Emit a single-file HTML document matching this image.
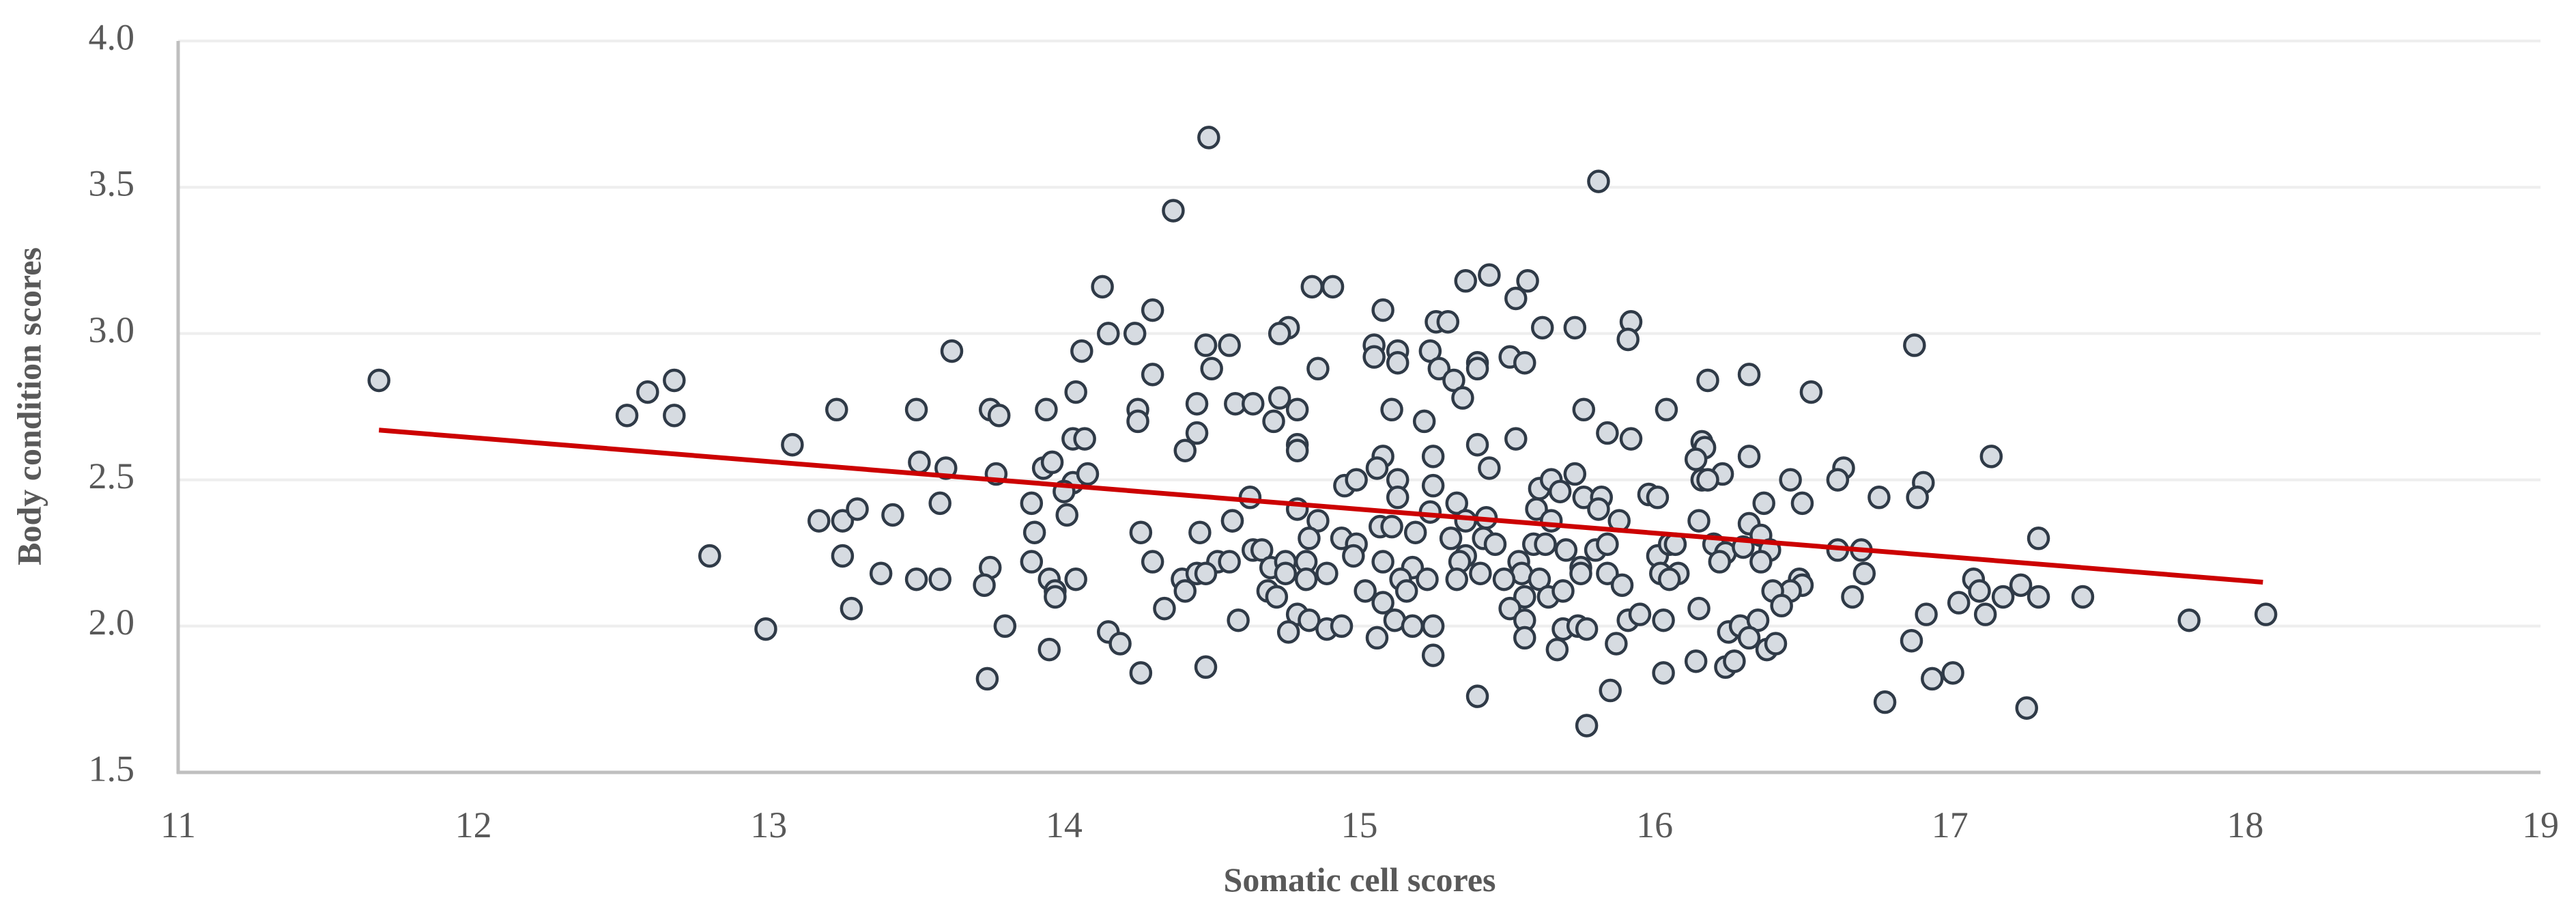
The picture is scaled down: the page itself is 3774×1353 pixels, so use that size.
<!DOCTYPE html>
<html><head><meta charset="utf-8">
<style>
html,body{margin:0;padding:0;background:#fff;}
svg{display:block;}
.tick{font-family:"Liberation Serif",serif;font-size:54px;fill:#595959;}
.title{font-family:"Liberation Serif",serif;font-size:50px;font-weight:bold;fill:#595959;}
</style></head>
<body>
<svg id="chart" width="3774" height="1353" viewBox="0 0 3774 1353" xmlns="http://www.w3.org/2000/svg">
<rect width="3774" height="1353" fill="#fff"/>
<g id="grid"></g>
<g id="axes"></g>
<g id="points"></g>
<g id="trend"></g>
<text class="title" x="48" y="595" text-anchor="middle" transform="rotate(-90 48 595)" dominant-baseline="middle">Body condition scores</text>
<text class="title" x="1992" y="1305" text-anchor="middle">Somatic cell scores</text>
</svg>
<script>
const xTicks=[11,12,13,14,15,16,17,18,19];
const yTicks=[1.5,2.0,2.5,3.0,3.5,4.0];
const yTickLabels=["1.5","2.0","2.5","3.0","3.5","4.0"];
const scsX=[11.68,12.59,12.68,12.52,12.68,13.08,12.80,12.99,
14.49,14.37,14.13,14.30,14.15,14.24,13.62,14.06,14.48,14.50,14.30,14.04,13.23,13.50,13.75,13.78,13.94,14.25,14.25,14.45,14.03,14.07,14.45,14.41,13.51,13.60,13.77,13.93,13.96,14.03,14.08,14.00,13.17,13.25,13.30,13.42,13.58,13.89,14.01,13.90,14.26,14.46,14.57,13.25,13.38,13.50,13.58,13.75,13.73,13.89,13.95,13.97,13.97,14.04,14.30,14.52,14.40,14.45,14.48,14.41,13.28,14.34,13.80,14.15,14.19,13.95,13.74,14.26,14.48,
15.81,14.84,14.91,15.36,15.44,15.57,15.53,15.08,14.76,14.73,15.26,15.30,15.62,15.73,15.92,15.91,14.56,15.05,15.05,15.13,15.13,15.24,15.27,15.32,15.35,15.40,15.40,15.51,15.56,14.86,14.58,14.64,14.73,14.79,14.71,15.11,15.22,15.76,16.04,14.79,14.79,15.40,15.53,15.84,15.92,15.44,15.08,15.06,15.25,14.95,14.99,15.13,15.13,15.25,14.63,14.79,14.57,14.86,15.33,15.24,15.36,15.43,15.61,15.65,15.73,15.68,15.76,15.82,15.60,15.81,15.65,15.88,15.98,16.01,15.07,15.11,15.19,14.83,14.94,14.99,14.98,14.64,14.67,15.31,15.42,15.46,15.36,15.34,15.59,15.63,15.70,15.80,15.84,16.01,16.05,14.56,14.70,14.75,14.82,14.75,14.89,15.08,15.18,15.14,15.23,15.41,15.33,15.54,15.55,15.49,15.61,15.75,15.75,15.84,15.89,16.02,14.69,14.72,14.82,15.02,15.08,15.16,15.56,15.64,15.69,15.51,14.59,14.79,14.76,14.83,14.89,14.94,15.06,15.12,15.18,15.25,15.25,15.56,15.56,15.69,15.74,15.77,15.91,15.95,16.03,15.67,15.87,16.03,15.85,15.40,15.77,
16.88,16.18,16.32,16.53,16.16,16.17,16.14,16.32,16.23,16.16,16.18,16.46,16.64,16.62,16.37,16.50,16.76,16.91,16.89,17.14,16.15,16.32,16.36,16.07,16.20,16.24,16.30,16.39,16.22,16.36,16.62,16.70,17.30,16.08,16.05,16.71,16.49,16.50,16.46,16.40,16.43,16.67,17.08,17.10,17.18,17.24,17.30,17.45,17.03,16.92,17.12,17.81,18.07,16.15,16.25,16.29,16.35,16.32,16.38,16.41,16.87,16.14,16.24,16.27,16.94,17.01,16.78,17.26];
const bcsY=[2.84,2.80,2.84,2.72,2.72,2.62,2.24,1.99,
3.67,3.42,3.16,3.08,3.00,3.00,2.94,2.94,2.96,2.88,2.86,2.80,2.74,2.74,2.74,2.72,2.74,2.74,2.70,2.76,2.64,2.64,2.66,2.60,2.56,2.54,2.52,2.54,2.56,2.49,2.52,2.46,2.36,2.36,2.40,2.38,2.42,2.42,2.38,2.32,2.32,2.32,2.36,2.24,2.18,2.16,2.16,2.20,2.14,2.22,2.16,2.12,2.10,2.16,2.22,2.22,2.16,2.18,2.18,2.12,2.06,2.06,2.00,1.98,1.94,1.92,1.82,1.84,1.86,
3.52,3.16,3.16,3.18,3.20,3.18,3.12,3.08,3.02,3.00,3.04,3.04,3.02,3.02,3.04,2.98,2.96,2.96,2.92,2.94,2.90,2.94,2.88,2.84,2.78,2.90,2.88,2.92,2.90,2.88,2.76,2.76,2.78,2.74,2.70,2.74,2.70,2.74,2.74,2.62,2.60,2.62,2.64,2.66,2.64,2.54,2.58,2.54,2.58,2.48,2.50,2.50,2.44,2.48,2.44,2.40,2.36,2.36,2.42,2.39,2.36,2.37,2.47,2.50,2.52,2.46,2.44,2.44,2.40,2.40,2.36,2.36,2.45,2.44,2.34,2.34,2.32,2.30,2.30,2.28,2.24,2.26,2.26,2.30,2.30,2.28,2.24,2.22,2.28,2.28,2.26,2.26,2.28,2.24,2.28,2.22,2.20,2.22,2.22,2.18,2.18,2.22,2.20,2.16,2.16,2.18,2.16,2.22,2.18,2.16,2.16,2.20,2.18,2.18,2.14,2.18,2.12,2.10,2.16,2.12,2.08,2.12,2.10,2.10,2.12,2.06,2.02,2.04,1.98,2.02,1.99,2.00,1.96,2.02,2.00,2.00,1.90,2.02,1.96,1.99,2.00,1.99,2.02,2.04,2.02,1.92,1.94,1.84,1.78,1.76,1.66,
2.96,2.84,2.86,2.80,2.63,2.61,2.57,2.58,2.52,2.50,2.50,2.50,2.54,2.50,2.42,2.42,2.44,2.49,2.44,2.58,2.36,2.35,2.31,2.28,2.28,2.25,2.27,2.26,2.22,2.22,2.26,2.26,2.30,2.18,2.16,2.18,2.16,2.14,2.12,2.12,2.07,2.10,2.16,2.12,2.10,2.14,2.10,2.10,2.08,2.04,2.04,2.02,2.04,2.06,1.98,2.00,2.02,1.96,1.92,1.94,1.95,1.88,1.86,1.88,1.82,1.84,1.74,1.72];
const trendX=[11.68,18.06];
const trendY=[2.67,2.15];

const L=261,R=3722,T=60,B=1131;
const xMin=11,xMax=19,yMin=1.5,yMax=4.0;
const sx=v=>L+(v-xMin)/(xMax-xMin)*(R-L);
const sy=v=>B-(v-yMin)/(yMax-yMin)*(B-T);
const NS="http://www.w3.org/2000/svg";
function mk(tag,attrs,parent){const e=document.createElementNS(NS,tag);for(const k in attrs)e.setAttribute(k,attrs[k]);parent.appendChild(e);return e;}
const grid=document.getElementById('grid'),axes=document.getElementById('axes'),pts=document.getElementById('points'),tr=document.getElementById('trend');
yTicks.forEach((v,i)=>{
  if(v>yMin){const g=mk('line',{x1:L,x2:R,y1:sy(v),y2:sy(v),stroke:'#eeeeee','stroke-width':4},grid);
  
  }
  const t=mk('text',{x:197,y:sy(v),'text-anchor':'end','dominant-baseline':'middle',class:'tick'},axes);
  t.textContent=yTickLabels[i];
  
  
});
xTicks.forEach(v=>{
  const t=mk('text',{x:sx(v),y:1226,'text-anchor':'middle',class:'tick'},axes);
  t.textContent=String(v);
  
  
});
const ya=mk('line',{x1:L,x2:L,y1:T,y2:B+2,stroke:'#bfbfbf','stroke-width':5},axes);


const xa=mk('line',{x1:L-2,x2:R,y1:B,y2:B,stroke:'#bfbfbf','stroke-width':5},axes);


scsX.forEach((x,i)=>{
  const c=mk('ellipse',{cx:sx(x),cy:sy(bcsY[i]),rx:14.5,ry:15,fill:'#d6dbe1',stroke:'#2f3a47','stroke-width':4.5},pts);
  
  
});
const tl=mk('line',{x1:sx(trendX[0]),y1:sy(trendY[0]),x2:sx(trendX[1]),y2:sy(trendY[1]),stroke:'#cc0000','stroke-width':7},tr);


</script>
</body></html>
